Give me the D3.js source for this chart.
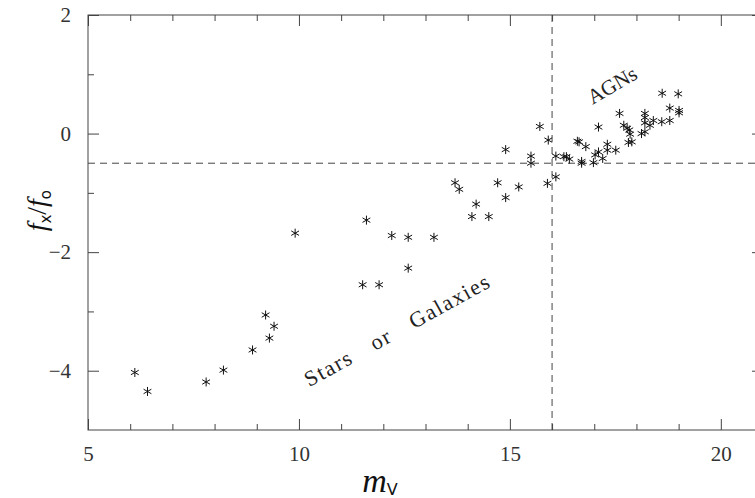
<!DOCTYPE html>
<html>
<head>
<meta charset="utf-8">
<script src="https://cdn.jsdelivr.net/npm/d3@7"></script>
<style>
  body { margin: 0; background: #fff; }
  svg { display: block; }
  .tick text { font-family: "Liberation Serif", "DejaVu Serif", serif; fill: #333; }
</style>
</head>
<body>
<div id="chart"></div>
<script>
// Data: m_V and log(fx/fo)
const mV = [
  6.11, 6.41, 7.80, 8.21, 8.90, 9.21, 9.30, 9.41, 9.91,
  11.51, 11.60, 11.90, 12.20, 12.59, 12.59, 13.20,
  13.70, 13.80, 14.10, 14.20, 14.50, 14.71, 14.90, 14.90, 15.21,
  15.50, 15.50, 15.71, 15.89, 15.91, 16.09, 16.09,
  16.28, 16.34, 16.41, 16.60, 16.64, 16.70, 16.70, 16.80, 16.98,
  17.02, 17.10, 17.10, 17.20, 17.31, 17.31, 17.51, 17.60, 17.70,
  17.78, 17.81, 17.83, 17.85, 17.89, 18.12, 18.20, 18.20, 18.20,
  18.20, 18.32, 18.40, 18.60, 18.61, 18.79, 18.79, 18.99, 19.01, 19.01
];
const fxfo = [
  -4.03, -4.35, -4.19, -3.99, -3.65, -3.06, -3.45, -3.25, -1.68,
  -2.55, -1.46, -2.55, -1.72, -1.75, -2.27, -1.75,
  -0.83, -0.94, -1.40, -1.19, -1.40, -0.83, -0.27, -1.08, -0.90,
  -0.38, -0.50, 0.12, -0.84, -0.11, -0.38, -0.73,
  -0.39, -0.39, -0.43, -0.13, -0.14, -0.47, -0.50, -0.22, -0.49,
  -0.36, -0.31, 0.11, -0.42, -0.18, -0.28, -0.28, 0.34, 0.14,
  0.09, -0.15, 0.06, -0.01, -0.14, 0.00, 0.03, 0.34, 0.27,
  0.18, 0.14, 0.22, 0.20, 0.68, 0.43, 0.22, 0.67, 0.39, 0.35
];
const xMajor = [5, 10, 15, 20];
const xMinor = [6, 7, 8, 9, 11, 12, 13, 14, 16, 17, 18, 19, 21];
const yMajor = [2, 0, -2, -4];
const yMinor = [1, -1, -3];
const mVcut = 16;
const ratioCut = -0.5;

const points = mV.map((m, i) => ({ m, r: fxfo[i] }));

const width = 755;
const height = 498;
const margin = { top: 15, right: -8, bottom: 68, left: 88 };

const svg = d3.select("#chart").append("svg")
  .attr("width", width)
  .attr("height", height);

const x = d3.scaleLinear().domain([5, 21]).range([margin.left, width - margin.right]);
const y = d3.scaleLinear().domain([-5, 2]).range([height - margin.bottom, margin.top]);

const axisColor = "#444";
const serif = "Liberation Serif, DejaVu Serif, serif";
const fmt = (d) => (d < 0 ? "\u2212" + Math.abs(d) : d);

// Frame
svg.append("rect")
  .attr("x", x(5)).attr("y", y(2))
  .attr("width", x(21) - x(5)).attr("height", y(-5) - y(2))
  .attr("fill", "none").attr("stroke", axisColor).attr("stroke-width", 1);

// Axes (ticks pointing inward)
function drawAxis(axis, transform, fontSize) {
  const g = svg.append("g").attr("transform", transform).call(axis);
  g.select(".domain").remove();
  g.selectAll(".tick line").attr("stroke", axisColor);
  g.selectAll(".tick text").style("font-size", fontSize);
  return g;
}

const yb = y(-5), yt = y(2), xl = x(5), xr = x(21);

drawAxis(d3.axisBottom(x).tickValues(xMajor).tickSize(-11).tickPadding(16).tickFormat(fmt),
  `translate(0,${yb})`, "21px");
drawAxis(d3.axisBottom(x).tickValues(xMinor).tickSize(-6).tickFormat(""), `translate(0,${yb})`);
drawAxis(d3.axisTop(x).tickValues(xMajor).tickSize(-11).tickFormat(""), `translate(0,${yt})`);
drawAxis(d3.axisTop(x).tickValues(xMinor).tickSize(-6).tickFormat(""), `translate(0,${yt})`);

drawAxis(d3.axisLeft(y).tickValues(yMajor).tickSize(-11).tickPadding(17).tickFormat(fmt),
  `translate(${xl},0)`, "21px");
drawAxis(d3.axisLeft(y).tickValues(yMinor).tickSize(-6).tickFormat(""), `translate(${xl},0)`);
drawAxis(d3.axisRight(y).tickValues(yMajor).tickSize(-11).tickFormat(""), `translate(${xr},0)`);
drawAxis(d3.axisRight(y).tickValues(yMinor).tickSize(-6).tickFormat(""), `translate(${xr},0)`);

// Dashed cut lines
svg.append("line")
  .attr("x1", x(mVcut)).attr("x2", x(mVcut))
  .attr("y1", yt).attr("y2", yb)
  .attr("stroke", axisColor).attr("stroke-dasharray", "7,5");
svg.append("line")
  .attr("x1", xl).attr("x2", xr)
  .attr("y1", y(ratioCut)).attr("y2", y(ratioCut))
  .attr("stroke", axisColor).attr("stroke-dasharray", "7,5");

// Asterisk markers
const r = 4.5;
const arms = [90, 30, 150].map((a) => [Math.cos(a * Math.PI / 180) * r, Math.sin(a * Math.PI / 180) * r]);
const star = arms.map(([dx, dy]) => `M${-dx},${-dy}L${dx},${dy}`).join("");

svg.append("g")
  .selectAll("path")
  .data(points)
  .enter()
  .append("path")
  .attr("transform", (d) => `translate(${x(d.m)},${y(d.r)})`)
  .attr("d", star)
  .attr("fill", "none")
  .attr("stroke", "#111")
  .attr("stroke-width", 1);

// Region labels
svg.append("text")
  .attr("transform", `translate(${x(17.42)},${y(0.82)}) rotate(-30)`)
  .attr("text-anchor", "middle")
  .attr("dy", "0.35em")
  .style("font-family", serif)
  .style("font-size", "21px")
  .attr("fill", "#222")
  .text("AGNs");

svg.append("text")
  .attr("transform", `translate(${x(12.33)},${y(-3.31)}) rotate(-29)`)
  .attr("text-anchor", "middle")
  .attr("dy", "0.35em")
  .style("font-family", serif)
  .style("font-size", "22px")
  .style("letter-spacing", "1.6px")
  .style("word-spacing", "16px")
  .attr("fill", "#222")
  .text("Stars or Galaxies");

// Axis titles
const xt = svg.append("text")
  .attr("x", 380)
  .attr("y", 492)
  .attr("text-anchor", "middle")
  .style("font-family", serif)
  .attr("fill", "#111");
xt.append("tspan").style("font-style", "italic").style("font-size", "34px").text("m");
xt.append("tspan").attr("dy", 3).style("font-size", "16px").style("font-family", "DejaVu Sans, sans-serif").text("V");

const yTitle = svg.append("text")
  .attr("transform", `translate(46,${y(-1.3)}) rotate(-90)`)
  .attr("text-anchor", "middle")
  .style("font-family", serif)
  .attr("fill", "#111");
yTitle.append("tspan").style("font-style", "italic").style("font-size", "28px").text("f");
yTitle.append("tspan").attr("dy", 5).style("font-size", "15px").style("font-family", "DejaVu Sans, sans-serif").text("x");
yTitle.append("tspan").attr("dy", -5).style("font-size", "28px").text("/");
yTitle.append("tspan").style("font-style", "italic").style("font-size", "28px").text("f");
yTitle.append("tspan").attr("dy", 5).style("font-size", "15px").style("font-family", "DejaVu Sans, sans-serif").text("o");
</script>
</body>
</html>
